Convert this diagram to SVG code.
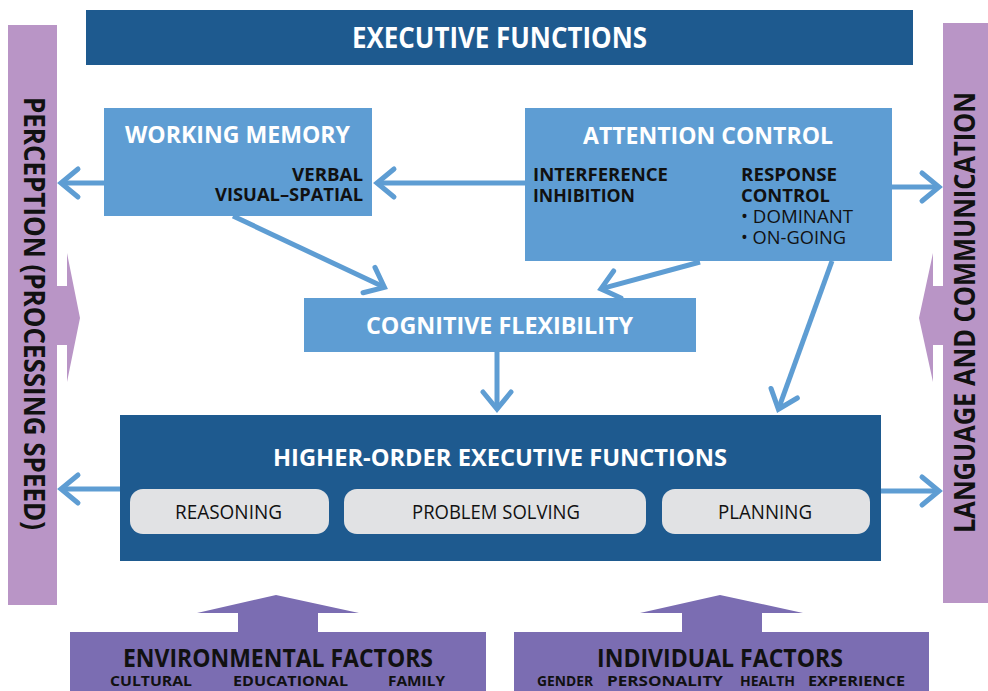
<svg xmlns="http://www.w3.org/2000/svg" width="988" height="691" viewBox="0 0 988 691">
<style>
text{font-family:"Open Sans","Liberation Sans",sans-serif;}
.dark{fill:#1e5a8f;}
.mid{fill:#5e9dd3;}
.side{fill:#b995c6;}
.fac{fill:#7b6db2;}
.pill{fill:#e1e2e4;}
.tw{fill:#ffffff;font-weight:700;}
.tb{fill:#111111;font-weight:700;}
.tr{fill:#111111;font-weight:400;}
.conn{fill:none;stroke:#5e9dd3;stroke-width:5;marker-end:url(#ah);}
</style>
<defs>
<marker id="ah" viewBox="-25 -20 30 40" refX="0" refY="0" markerWidth="30" markerHeight="40" markerUnits="userSpaceOnUse" orient="auto" overflow="visible">
<path d="M-17,-14 L0,0 L-17,14" fill="none" stroke="#5e9dd3" stroke-width="5" stroke-linecap="round"/>
</marker>
</defs>
<rect width="988" height="691" fill="#ffffff"/>

<g id="perception">
<rect class="side" x="8" y="25" width="49" height="580"/>
<polygon class="side" points="57,286 67,286 67,253 80,318 67,382 67,345 57,345"/>
<text class="tb" font-size="28" text-anchor="middle" transform="translate(24,313.5) rotate(90)" textLength="433" lengthAdjust="spacingAndGlyphs">PERCEPTION (PROCESSING SPEED)</text>
</g>

<g id="language">
<rect class="side" x="943" y="23" width="45" height="580"/>
<polygon class="side" points="943,286 933,286 933,253 919,318 933,382 933,345 943,345"/>
<text class="tb" font-size="28" text-anchor="middle" transform="translate(975,312.5) rotate(-90)" textLength="441" lengthAdjust="spacingAndGlyphs">LANGUAGE AND COMMUNICATION</text>
</g>

<g id="executive-functions">
<rect class="dark" x="86" y="10" width="827" height="55"/>
<text class="tw" font-size="28" x="499.5" y="48" text-anchor="middle" textLength="295" lengthAdjust="spacingAndGlyphs">EXECUTIVE FUNCTIONS</text>
</g>

<g id="working-memory">
<rect class="mid" x="104" y="108" width="268" height="108"/>
<text class="tw" font-size="24" x="237.5" y="143" text-anchor="middle" textLength="225" lengthAdjust="spacingAndGlyphs">WORKING MEMORY</text>
<text class="tb" font-size="17" x="363" y="181" text-anchor="end" textLength="71" lengthAdjust="spacingAndGlyphs">VERBAL</text>
<text class="tb" font-size="17" x="363" y="201" text-anchor="end" textLength="148" lengthAdjust="spacingAndGlyphs">VISUAL–SPATIAL</text>
</g>

<g id="attention-control">
<rect class="mid" x="525" y="108" width="367" height="153"/>
<text class="tw" font-size="24" x="708" y="144" text-anchor="middle" textLength="250" lengthAdjust="spacingAndGlyphs">ATTENTION CONTROL</text>
<text class="tb" font-size="18" x="533" y="181" textLength="135" lengthAdjust="spacingAndGlyphs">INTERFERENCE</text>
<text class="tb" font-size="18" x="533" y="202" textLength="102" lengthAdjust="spacingAndGlyphs">INHIBITION</text>
<text class="tb" font-size="18" x="741" y="181" textLength="96" lengthAdjust="spacingAndGlyphs">RESPONSE</text>
<text class="tb" font-size="18" x="741" y="202" textLength="89" lengthAdjust="spacingAndGlyphs">CONTROL</text>
<text class="tr" font-size="18" x="741" y="223" textLength="112" lengthAdjust="spacingAndGlyphs">• DOMINANT</text>
<text class="tr" font-size="18" x="741" y="244" textLength="105" lengthAdjust="spacingAndGlyphs">• ON-GOING</text>
</g>

<g id="cognitive-flexibility">
<rect class="mid" x="304" y="298" width="392" height="54"/>
<text class="tw" font-size="23" x="499.5" y="334" text-anchor="middle" textLength="267" lengthAdjust="spacingAndGlyphs">COGNITIVE FLEXIBILITY</text>
</g>

<g id="higher-order">
<rect class="dark" x="120" y="415" width="761" height="146"/>
<text class="tw" font-size="24" x="500" y="466" text-anchor="middle" textLength="454" lengthAdjust="spacingAndGlyphs">HIGHER-ORDER EXECUTIVE FUNCTIONS</text>
</g>

<g id="reasoning">
<rect class="pill" x="130" y="489" width="199" height="45" rx="13"/>
<text class="tr" font-size="20" x="228.5" y="519" text-anchor="middle" textLength="107" lengthAdjust="spacingAndGlyphs">REASONING</text>
</g>
<g id="problem-solving">
<rect class="pill" x="344" y="489" width="302" height="45" rx="13"/>
<text class="tr" font-size="20" x="496" y="519" text-anchor="middle" textLength="168" lengthAdjust="spacingAndGlyphs">PROBLEM SOLVING</text>
</g>
<g id="planning">
<rect class="pill" x="662" y="489" width="208" height="45" rx="13"/>
<text class="tr" font-size="20" x="765" y="519" text-anchor="middle" textLength="94" lengthAdjust="spacingAndGlyphs">PLANNING</text>
</g>

<g id="environmental-factors">
<polygon class="fac" points="238,632 238,613 197,613 276,595 359,613 318,613 318,632"/>
<rect class="fac" x="70" y="632" width="416" height="59"/>
<text class="tb" font-size="25" x="278" y="667" text-anchor="middle" textLength="310" lengthAdjust="spacingAndGlyphs">ENVIRONMENTAL FACTORS</text>
<text class="tb" font-size="15" x="110" y="686" textLength="82" lengthAdjust="spacingAndGlyphs">CULTURAL</text>
<text class="tb" font-size="15" x="233" y="686" textLength="115" lengthAdjust="spacingAndGlyphs">EDUCATIONAL</text>
<text class="tb" font-size="15" x="388" y="686" textLength="57" lengthAdjust="spacingAndGlyphs">FAMILY</text>
</g>

<g id="individual-factors">
<polygon class="fac" points="682,632 682,613 640,613 720,595 803,613 762,613 762,632"/>
<rect class="fac" x="514" y="632" width="415" height="59"/>
<text class="tb" font-size="25" x="720" y="667" text-anchor="middle" textLength="246" lengthAdjust="spacingAndGlyphs">INDIVIDUAL FACTORS</text>
<text class="tb" font-size="15" x="537" y="686" textLength="56" lengthAdjust="spacingAndGlyphs">GENDER</text>
<text class="tb" font-size="15" x="607" y="686" textLength="116" lengthAdjust="spacingAndGlyphs">PERSONALITY</text>
<text class="tb" font-size="15" x="740" y="686" textLength="55" lengthAdjust="spacingAndGlyphs">HEALTH</text>
<text class="tb" font-size="15" x="808" y="686" textLength="97" lengthAdjust="spacingAndGlyphs">EXPERIENCE</text>
</g>

<g id="connectors">
<path class="conn" d="M104,183 L61,183"/>
<path class="conn" d="M525,183 L377,183"/>
<path class="conn" d="M892,187 L939,187"/>
<path class="conn" d="M233,216 L384.4,287.3"/>
<path class="conn" d="M700,262 L600.9,288.9"/>
<path class="conn" d="M832,261 L778.4,409.2"/>
<path class="conn" d="M497,352 L497,409"/>
<path class="conn" d="M120,489 L61,489"/>
<path class="conn" d="M881,491 L939,491"/>
</g>
</svg>
